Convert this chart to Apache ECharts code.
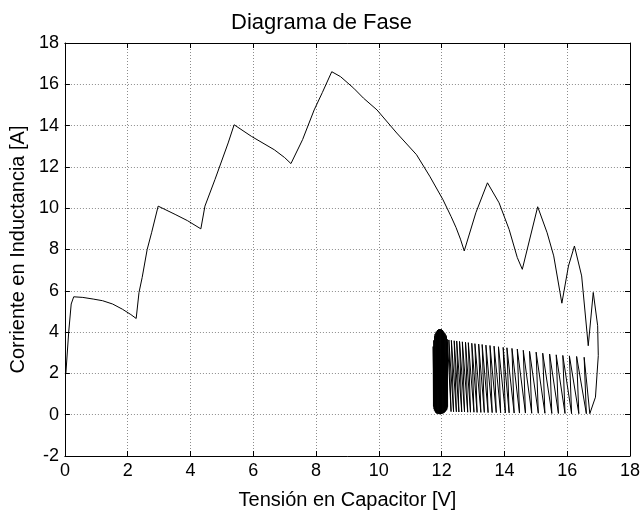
<!DOCTYPE html>
<html>
<head>
<meta charset="utf-8">
<script src="https://cdn.jsdelivr.net/npm/echarts@6/dist/echarts.min.js"></script>
<style>
  html, body { margin: 0; padding: 0; background: #fff; }
  #chart { width: 643px; height: 515px; }
</style>
</head>
<body>
<div id="chart"></div>
<script>
// transient part of the trajectory (voltage, current)
const mainX = [0.03, 0.12, 0.2, 0.28, 0.57, 0.9, 1.2, 1.52, 1.83, 2.1, 2.27, 2.36, 2.46, 2.62, 2.76, 2.97,
  3.51, 3.9, 4.33, 4.46, 4.78, 5.2, 5.39, 5.94, 6.67, 7.0, 7.2, 7.57, 7.94, 8.2, 8.5, 8.78, 9.2, 9.51,
  9.94, 10.57, 11.2, 11.62, 12.04, 12.3, 12.46, 12.6, 12.72, 13.09, 13.46, 13.83, 14.15, 14.41, 14.57,
  15.06, 15.36, 15.57, 15.83, 16.04, 16.23, 16.46, 16.67, 16.83, 16.97, 16.99, 16.9, 16.72];
const mainY = [2.0, 4.0, 5.36, 5.71, 5.68, 5.6, 5.52, 5.36, 5.11, 4.85, 4.66, 5.92, 6.64, 8.0, 8.81, 10.1,
  9.7, 9.4, 9.0, 10.1, 11.39, 13.16, 14.04, 13.48, 12.83, 12.45, 12.16, 13.32, 14.76, 15.6, 16.61, 16.37, 15.81, 15.33,
  14.76, 13.64, 12.59, 11.55, 10.42, 9.6, 9.06, 8.5, 7.93, 9.78, 11.23, 10.26, 8.97, 7.61, 7.04,
  10.07, 8.81, 7.69, 5.4, 7.2, 8.17, 6.72, 3.34, 5.92, 4.31, 2.86, 0.85, 0.05];

// decaying oscillation, peaks and the valleys that follow them
const peakX = [16.54, 16.30, 16.07, 15.86, 15.65, 15.44, 15.22, 15.01, 14.80, 14.60, 14.41, 14.24, 14.08, 13.96, 13.81,
  13.67, 13.54, 13.41, 13.29, 13.18, 13.06, 12.96, 12.85, 12.76, 12.66, 12.57, 12.48, 12.40, 12.31, 12.23];
const peakY = [2.78, 2.82, 2.85, 2.87, 2.90, 2.94, 2.98, 3.03, 3.07, 3.12, 3.18, 3.21, 3.24, 3.26, 3.29,
  3.32, 3.35, 3.37, 3.40, 3.42, 3.44, 3.46, 3.49, 3.51, 3.53, 3.55, 3.57, 3.58, 3.60, 3.62];
const valleyX = [16.61, 16.37, 16.14, 15.93, 15.72, 15.51, 15.29, 15.08, 14.87, 14.67, 14.48, 14.31, 14.15, 14.03, 13.88,
  13.74, 13.61, 13.48, 13.36, 13.25, 13.13, 13.03, 12.92, 12.83, 12.73, 12.64, 12.55, 12.47, 12.38, 12.30];
const valleyY = [0.05, 0.05, 0.05, 0.06, 0.06, 0.06, 0.07, 0.07, 0.07, 0.08, 0.08, 0.08, 0.09, 0.09, 0.09,
  0.1, 0.1, 0.1, 0.11, 0.11, 0.11, 0.12, 0.12, 0.12, 0.13, 0.13, 0.13, 0.14, 0.14, 0.15];

// limit cycle near 12 V (dense black band)
const blobX = [12.19, 12.17, 12.15, 12.13, 12.11, 12.09, 12.07, 12.05, 12.03, 12.01, 11.99, 11.97, 11.95, 11.93,
  11.91, 11.89, 11.87, 11.85, 11.83, 11.81, 11.79, 11.77, 11.75, 11.74, 11.73, 11.76, 11.78, 11.80, 11.82, 11.84,
  11.86, 11.88, 11.90, 11.92, 11.94, 11.96, 11.98, 12.00, 12.02, 12.04, 12.06, 12.08, 12.10, 12.12, 12.14, 12.16,
  12.18, 12.19];
const blobY = [3.5, 0.3, 3.78, 0.18, 3.9, 0.12, 4.0, 0.08, 4.08, 0.05, 4.13, 0.03, 4.15, 0.03,
  4.13, 0.04, 4.1, 0.06, 4.02, 0.1, 3.9, 0.2, 3.6, 0.4, 3.3, 0.28, 3.8, 0.13, 3.97, 0.07,
  4.06, 0.05, 4.12, 0.03, 4.15, 0.03, 4.14, 0.04, 4.1, 0.06, 4.03, 0.1, 3.95, 0.15, 3.84, 0.22,
  3.65, 0.38];

const xTicks = { min: 0, max: 18, interval: 2 };
const yTicks = { min: -2, max: 18, interval: 2 };

const path = [];
mainX.forEach((x, i) => path.push([x, mainY[i]]));
peakX.forEach((x, i) => {
  path.push([x, peakY[i]]);
  path.push([valleyX[i], valleyY[i]]);
});
blobX.forEach((x, i) => path.push([x, blobY[i]]));

const font = "'Liberation Sans', Arial, sans-serif";
const black = '#000';

function axisBase(extra) {
  return Object.assign({
    type: 'value',
    axisLine: { show: true, onZero: false, lineStyle: { color: black, width: 1 } },
    axisTick: { show: true, inside: true, length: 5, lineStyle: { color: black } },
    splitLine: { show: false },
    axisLabel: { show: false }
  }, extra);
}

const chart = echarts.init(document.getElementById('chart'), null, { renderer: 'canvas' });
chart.setOption({
  animation: false,
  backgroundColor: '#fff',
  textStyle: { fontFamily: font },
  title: {
    text: 'Diagrama de Fase',
    left: 'center',
    top: 7,
    textStyle: { fontFamily: font, fontSize: 22, fontWeight: 'normal', color: black }
  },
  grid: { left: 62, right: 11, top: 43, bottom: 57 },
  xAxis: [
    axisBase(Object.assign({}, xTicks, {
      position: 'bottom',
      name: 'Tensión en Capacitor [V]',
      nameLocation: 'middle',
      nameGap: 34,
      nameTextStyle: { fontFamily: font, fontSize: 20, color: black },
      axisLabel: { show: true, fontFamily: font, fontSize: 18, color: black, margin: 6 },
      splitLine: { show: true, lineStyle: { color: '#8c8c8c', width: 1, type: [1, 2] } }
    })),
    axisBase(Object.assign({}, xTicks, { position: 'top' }))
  ],
  yAxis: [
    axisBase(Object.assign({}, yTicks, {
      position: 'left',
      name: 'Corriente en Inductancia [A]',
      nameLocation: 'middle',
      nameGap: 34,
      nameRotate: 90,
      nameTextStyle: { fontFamily: font, fontSize: 20, color: black },
      axisLabel: { show: true, fontFamily: font, fontSize: 18, color: black, margin: 6 },
      splitLine: { show: true, lineStyle: { color: '#8c8c8c', width: 1, type: [1, 2] } }
    })),
    axisBase(Object.assign({}, yTicks, { position: 'right' }))
  ],
  series: [{
    type: 'line',
    data: path,
    xAxisIndex: 0,
    yAxisIndex: 0,
    showSymbol: false,
    symbol: 'none',
    lineStyle: { color: black, width: 1 },
    silent: true
  }]
});
</script>
</body>
</html>
